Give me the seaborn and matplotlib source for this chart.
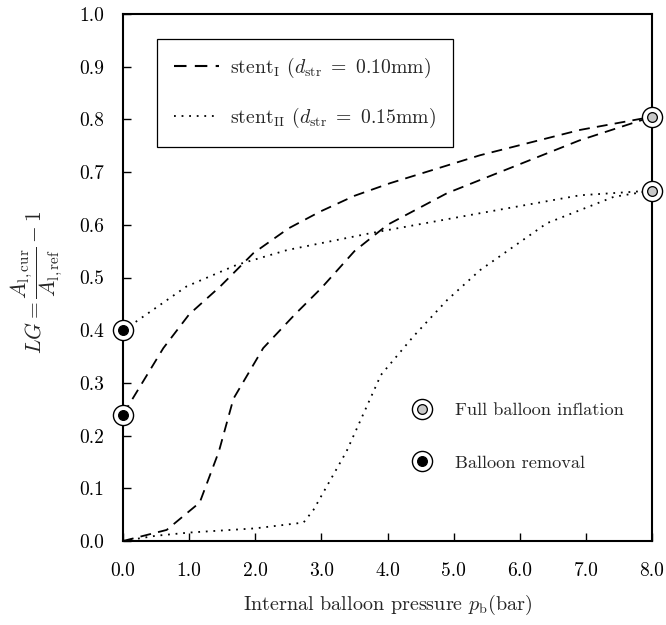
import numpy as np
import pandas as pd
import matplotlib
matplotlib.use("Agg")
import matplotlib.pyplot as plt
from matplotlib.lines import Line2D
import seaborn as sns

# ---- data ----
s1_load_x = [0.0, 0.66, 1.16, 1.45, 1.67, 2.12, 2.6, 3.0, 3.5, 4.0, 4.9, 5.9, 6.9, 8.0]
s1_load_y = [0.0, 0.021, 0.073, 0.17, 0.27, 0.366, 0.43, 0.48, 0.55, 0.600, 0.66, 0.71, 0.76, 0.805]
s1_unld_x = [0.0, 0.61, 1.0, 1.47, 1.97, 2.5, 2.98, 3.5, 4.04, 5.4, 6.91, 8.0]
s1_unld_y = [0.24, 0.366, 0.43, 0.483, 0.546, 0.593, 0.625, 0.655, 0.679, 0.732, 0.78, 0.805]
s2_load_x = [0.0, 0.5, 1.0, 2.0, 2.73, 2.88, 3.38, 3.9, 4.39, 4.9, 5.4, 6.41, 7.42, 8.0]
s2_load_y = [0.0, 0.01, 0.016, 0.024, 0.035, 0.059, 0.17, 0.315, 0.388, 0.457, 0.514, 0.603, 0.653, 0.665]
s2_unld_x = [0.0, 0.16, 0.96, 1.72, 2.48, 3.74, 5.4, 6.91, 8.0]
s2_unld_y = [0.40, 0.413, 0.483, 0.524, 0.552, 0.584, 0.622, 0.656, 0.665]

full_infl_x = [8.0, 8.0]
full_infl_y = [0.805, 0.665]
removal_x = [0.0, 0.0]
removal_y = [0.24, 0.40]

x_ticks = [0, 1, 2, 3, 4, 5, 6, 7, 8]
y_ticks = [0.0, 0.1, 0.2, 0.3, 0.4, 0.5, 0.6, 0.7, 0.8, 0.9, 1.0]

label_s1 = r"stent$_{\rm I}$ ($d_{\rm str}\ =\ 0.10$mm)"
label_s2 = r"stent$_{\rm II}$ ($d_{\rm str}\ =\ 0.15$mm)"

sns.set_theme(style="white")
plt.rcParams["font.family"] = ["cmr10", "DejaVu Serif"]
plt.rcParams["mathtext.fontset"] = "cm"
plt.rcParams["axes.formatter.use_mathtext"] = True
plt.rcParams["axes.unicode_minus"] = False

fig = plt.figure(figsize=(6.66, 6.25), dpi=100)
ax = fig.add_axes([0.1847, 0.1344, 0.979 - 0.1847, 0.9776 - 0.1344])

dash = (6, 4)
dot = (1, 3.2)
lw = 1.3
sns.lineplot(x=s1_load_x, y=s1_load_y, ax=ax, color="black", lw=lw, sort=False)
sns.lineplot(x=s1_unld_x, y=s1_unld_y, ax=ax, color="black", lw=lw, sort=False)
sns.lineplot(x=s2_load_x, y=s2_load_y, ax=ax, color="black", lw=lw, sort=False)
sns.lineplot(x=s2_unld_x, y=s2_unld_y, ax=ax, color="black", lw=lw, sort=False)
lines = ax.get_lines()
for ln in lines[:2]:
    ln.set_dashes(dash)
for ln in lines[2:4]:
    ln.set_dashes(dot)

# markers: outer ring + inner dot
for xs, ys, fc in [(full_infl_x, full_infl_y, "#c8c8c8"), (removal_x, removal_y, "black")]:
    ax.plot(xs, ys, ls="none", marker="o", ms=14.5, mfc="white", mec="black", mew=1.0,
            clip_on=False, zorder=5)
    ax.plot(xs, ys, ls="none", marker="o", ms=7, mfc=fc, mec="black", mew=0.9,
            clip_on=False, zorder=6)

ax.set_xlim(0, 8)
ax.set_ylim(0, 1.0)
ax.set_xticks(x_ticks)
ax.set_xticklabels([f"{v:.1f}" for v in x_ticks])
ax.set_yticks(y_ticks)
ax.set_yticklabels([f"{v:.1f}" for v in y_ticks])
ax.tick_params(axis="both", direction="in", length=6, width=1, labelsize=14,
               bottom=True, left=True, top=False, right=False, colors="black")
ax.tick_params(axis="x", pad=15.5)
ax.tick_params(axis="y", pad=13.5)
for sp in ax.spines.values():
    sp.set_color("black")
    sp.set_linewidth(1.5)

ax.set_xlabel(r"Internal balloon pressure $p_{\rm b}$(bar)", fontsize=14.5, labelpad=9)
ax.set_ylabel(r"$LG=\dfrac{A_{\rm l,cur}}{A_{\rm l,ref}}-1$", fontsize=15.5)
ax.yaxis.set_label_coords(-0.11, 0.49)

h1 = Line2D([], [], color="black", lw=1.5, dashes=dash)
h2 = Line2D([], [], color="black", lw=1.3, dashes=dot)
leg1 = ax.legend([h1, h2], [label_s1, label_s2], loc="upper left",
                 bbox_to_anchor=(0.064, 0.953), borderaxespad=0, fontsize=14.2,
                 frameon=True, fancybox=False, edgecolor="black", framealpha=1,
                 handlelength=2.3, labelspacing=1.35, borderpad=0.85, handletextpad=0.55)
leg1.get_frame().set_linewidth(0.9)
ax.add_artist(leg1)

m1 = (Line2D([], [], ls="none", marker="o", ms=14.5, mfc="white", mec="black", mew=1.0),
      Line2D([], [], ls="none", marker="o", ms=7, mfc="#c8c8c8", mec="black", mew=0.9))
m2 = (Line2D([], [], ls="none", marker="o", ms=14.5, mfc="white", mec="black", mew=1.0),
      Line2D([], [], ls="none", marker="o", ms=7, mfc="black", mec="black", mew=0.9))
ax.legend([m1, m2], ["Full balloon inflation", "Balloon removal"], loc="upper left",
          bbox_to_anchor=(0.5124, 0.294), fontsize=13.2, frameon=False,
          handlelength=1.2, labelspacing=2.0, handletextpad=1.22)

fig.savefig("out.png", dpi=100)
